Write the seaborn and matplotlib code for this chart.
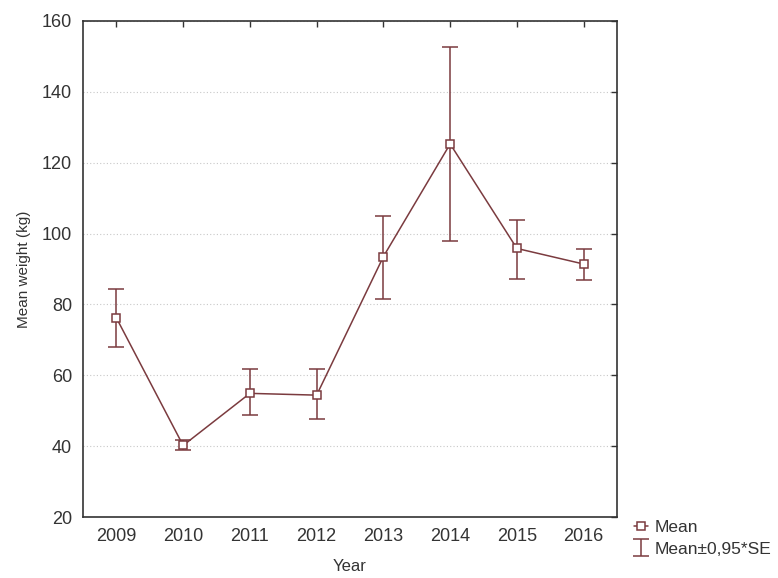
import matplotlib
matplotlib.use("Agg")
import matplotlib.pyplot as plt
import seaborn as sns
import pandas as pd

# mean weight per year, with the +/- 0.95*SE bounds
years = [2009, 2010, 2011, 2012, 2013, 2014, 2015, 2016]
means = [76.2, 40.2, 54.9, 54.4, 93.5, 125.3, 95.8, 91.4]
upper = [84.3, 41.6, 61.7, 61.7, 104.9, 152.7, 103.9, 95.7]
lower = [68.1, 38.8, 48.7, 47.8, 81.4, 98.0, 87.3, 86.8]

df = pd.DataFrame({"Year": years, "Mean": means})
err_lo = [m - l for m, l in zip(means, lower)]
err_hi = [u - m for m, u in zip(means, upper)]

sns.set_style("white")
plt.rcParams["font.family"] = ["Liberation Sans", "DejaVu Sans"]

col = "#7b3b3f"
fig = plt.figure(figsize=(7.78, 5.78), dpi=100)
ax = fig.add_axes([0.1067, 0.1055, 0.6864, 0.8582])

eb = ax.errorbar(years, means, yerr=[err_lo, err_hi], fmt="none", ecolor=col,
                 elinewidth=1.1, capsize=6, capthick=1.1, zorder=2)
sns.lineplot(data=df, x="Year", y="Mean", ax=ax, color=col, linewidth=1.1,
             marker="s", markersize=6, markerfacecolor="white",
             markeredgecolor=col, markeredgewidth=1.1, zorder=3, label="Mean")

ax.set_xlim(2008.5, 2016.5)
ax.set_ylim(20, 160)
ax.set_xticks(years)
ax.set_yticks(range(20, 161, 20))
ax.yaxis.grid(True, linestyle=(0, (1, 2)), color="#c8c8c8", linewidth=0.8)
ax.set_axisbelow(True)

for s in ax.spines.values():
    s.set_visible(True)
    s.set_color("#333333")
    s.set_linewidth(1.2)
ax.tick_params(direction="in", length=4, width=1, color="#333333",
               top=True, right=True, labelsize=13, labelcolor="#333333", pad=8)

ax.set_ylabel("Mean weight (kg)", fontsize=11, color="#333333", labelpad=8)
ax.set_xlabel("Year", fontsize=12, color="#333333", labelpad=10)

h, l = ax.get_legend_handles_labels()
ax.get_legend().remove()
fig.legend([h[0], eb], ["Mean", "Mean\u00b10,95*SE"], loc="lower left",
           bbox_to_anchor=(0.795, 0.01), frameon=False, fontsize=12.5,
           handlelength=0.8, handletextpad=0.4, labelspacing=0.35,
           labelcolor="#333333")

fig.savefig("out.png", dpi=100)
